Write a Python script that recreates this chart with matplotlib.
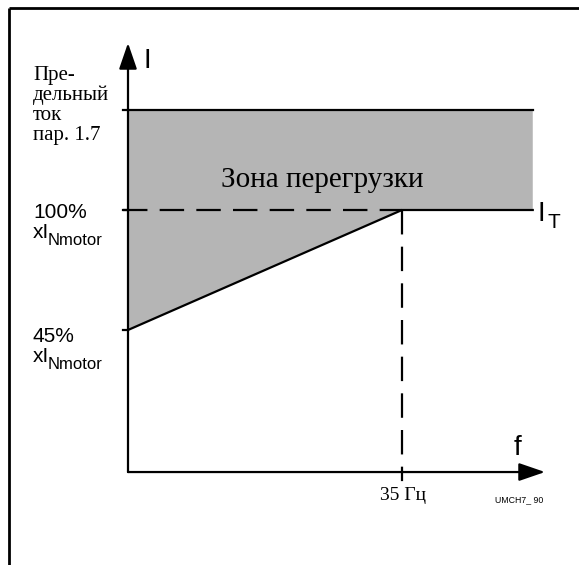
import matplotlib
matplotlib.use("Agg")
import matplotlib.pyplot as plt
from matplotlib.patches import Polygon

# Data (schematic): current limit vs frequency
f_break = 35.0          # Hz, break point
f_end = 51.7            # end of drawn lines
I_low = 45.0            # % of I_Nmotor at 0 Hz
I_nom = 100.0           # % of I_Nmotor
I_limit = 145.8         # current limit (par. 1.7), schematic level
I_axis = -20.1          # position of f axis (schematic origin)

y_ticks = [I_limit, I_nom, I_low]

W, H = 579, 565
fig = plt.figure(figsize=(W / 100, H / 100), dpi=100)
ax = fig.add_axes([0, 0, 1, 1])
# scale: px = 128 + f*7.829 ; py = 210 - (I-100)*2.1818
sx, sy = 7.829, 2.1818
ax.set_xlim(-128 / sx, (W - 128) / sx)
ax.set_ylim(100 - (H - 210) / sy, 100 + 210 / sy)
ax.axis("off")

lw = 1.6
sans = "Liberation Sans"
serif = "Liberation Serif"

def X(px):
    return (px - 128) / sx

def Y(py):
    return 100 - (py - 210) / sy

# frame (left and top)
ax.plot([X(9), X(9)], [ax.get_ylim()[0], Y(8)], color="black", lw=2, solid_capstyle="butt")
ax.plot([X(9), ax.get_xlim()[1]], [Y(8), Y(8)], color="black", lw=2, solid_capstyle="butt")

# overload zone fill
poly = Polygon([[0, I_limit], [f_end, I_limit], [f_end, I_nom], [f_break, I_nom], [0, I_low]],
               closed=True, facecolor="#b5b5b5", edgecolor="none", zorder=1)
ax.add_patch(poly)

# axes arrows
ax.annotate("", xy=(0, Y(43)), xytext=(0, I_axis),
            arrowprops=dict(arrowstyle="-|>,head_length=1.6,head_width=0.55", color="black", lw=lw,
                            shrinkA=0, shrinkB=0), zorder=3)
ax.annotate("", xy=(X(545), I_axis), xytext=(0, I_axis),
            arrowprops=dict(arrowstyle="-|>,head_length=1.6,head_width=0.55", color="black", lw=lw,
                            shrinkA=0, shrinkB=0), zorder=3)

# limit line
ax.plot([0, f_end], [I_limit, I_limit], color="black", lw=lw, zorder=3)
# ramp + nominal
ax.plot([0, f_break, f_end], [I_low, I_nom, I_nom], color="black", lw=lw, zorder=3)
# dashed lines
ax.plot([X(123), f_break], [I_nom, I_nom], color="black", lw=lw, dashes=(11, 5.5), zorder=3)
ax.plot([f_break, f_break], [I_nom, I_axis], color="black", lw=lw, dashes=(11, 5.5), zorder=3)

# ticks
for yv in y_ticks:
    ax.plot([X(123), 0], [yv, yv], color="black", lw=lw, zorder=3)
ax.plot([f_break, f_break], [I_axis, Y(480)], color="black", lw=lw, zorder=3)

# texts
ax.text(X(147.5), Y(68), "I", fontsize=20, family=sans, ha="center", va="baseline")
ax.text(X(33), Y(140), "Пре-\nдельный\nток\nпар. 1.7", fontsize=15, family=serif,
        ha="left", va="baseline", linespacing=1.06, multialignment="left")

def inom_label(base_px, pct):
    ax.text(X(33), Y(base_px), pct, fontsize=15, family=sans, ha="left", va="baseline")
    ax.text(X(33), Y(base_px + 20), "xI", fontsize=15, family=sans, ha="left", va="baseline")
    ax.text(X(48), Y(base_px + 27), "Nmotor", fontsize=12, family=sans, ha="left", va="baseline")

inom_label(218, "100%")
inom_label(342, "45%")

ax.text(X(322.5), Y(187), "Зона перегрузки", fontsize=21, family=serif, ha="center", va="baseline")
ax.text(X(538), Y(221), "I", fontsize=20, family=sans, ha="left", va="baseline")
ax.text(X(547), Y(228), "T", fontsize=15, family=sans, ha="left", va="baseline")
ax.text(X(514), Y(455), "f", fontsize=20, family=sans, ha="left", va="baseline")
ax.text(X(403), Y(500), "35 Гц", fontsize=14, family=serif, ha="center", va="baseline")
ax.text(X(495), Y(502), "UMCH7_ 90", fontsize=6.3, family=sans, ha="left", va="baseline")

fig.savefig("out.png", dpi=100)
